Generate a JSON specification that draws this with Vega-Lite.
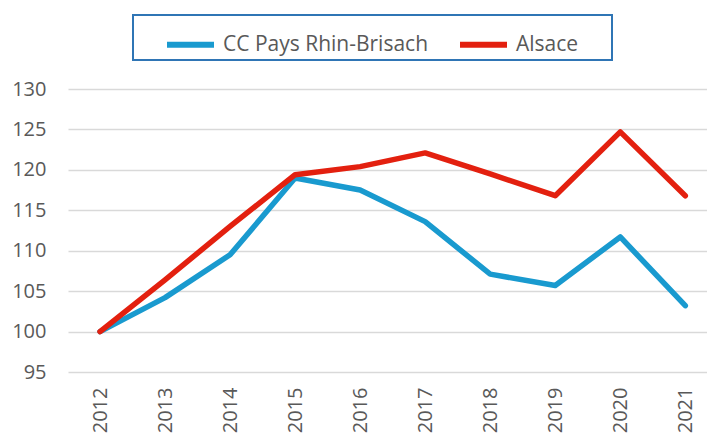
{
  "$schema": "https://vega.github.io/schema/vega-lite/v6.json",
  "width": 639,
  "height": 283,
  "autosize": {"type": "none"},
  "padding": {"left": 68, "top": 89, "right": 0, "bottom": 63},
  "background": "white",
  "config": {"view": {"stroke": null}, "font": "Open Sans", "legend": {"strokeWidth": 2}},
  "data": {
    "values": [
      {"year": "2012", "series": "CC Pays Rhin-Brisach", "value": 100.0},
      {"year": "2013", "series": "CC Pays Rhin-Brisach", "value": 104.2},
      {"year": "2014", "series": "CC Pays Rhin-Brisach", "value": 109.5},
      {"year": "2015", "series": "CC Pays Rhin-Brisach", "value": 119.0},
      {"year": "2016", "series": "CC Pays Rhin-Brisach", "value": 117.5},
      {"year": "2017", "series": "CC Pays Rhin-Brisach", "value": 113.6},
      {"year": "2018", "series": "CC Pays Rhin-Brisach", "value": 107.1},
      {"year": "2019", "series": "CC Pays Rhin-Brisach", "value": 105.7},
      {"year": "2020", "series": "CC Pays Rhin-Brisach", "value": 111.7},
      {"year": "2021", "series": "CC Pays Rhin-Brisach", "value": 103.2},
      {"year": "2012", "series": "Alsace", "value": 100.0},
      {"year": "2013", "series": "Alsace", "value": 106.4},
      {"year": "2014", "series": "Alsace", "value": 113.0},
      {"year": "2015", "series": "Alsace", "value": 119.4},
      {"year": "2016", "series": "Alsace", "value": 120.4},
      {"year": "2017", "series": "Alsace", "value": 122.1},
      {"year": "2018", "series": "Alsace", "value": 119.5},
      {"year": "2019", "series": "Alsace", "value": 116.8},
      {"year": "2020", "series": "Alsace", "value": 124.7},
      {"year": "2021", "series": "Alsace", "value": 116.8}
    ]
  },
  "mark": {"type": "line", "strokeWidth": 5.5, "strokeCap": "round", "strokeJoin": "round"},
  "encoding": {
    "x": {
      "field": "year",
      "type": "ordinal",
      "scale": {"type": "point", "padding": 0.413, "align": 0.596},
      "axis": {
        "title": null,
        "domain": false,
        "ticks": false,
        "labelAngle": -90,
        "labelPadding": 15,
        "labelFontSize": 20,
        "labelColor": "#595959"
      }
    },
    "y": {
      "field": "value",
      "type": "quantitative",
      "scale": {"domain": [95, 130], "nice": false, "zero": false},
      "axis": {
        "title": null,
        "values": [95, 100, 105, 110, 115, 120, 125, 130],
        "domain": false,
        "ticks": false,
        "grid": true,
        "gridColor": "#D9D9D9",
        "gridWidth": 1.5,
        "labelPadding": 22,
        "labelFontSize": 20,
        "labelColor": "#595959"
      }
    },
    "color": {
      "field": "series",
      "type": "nominal",
      "scale": {"domain": ["CC Pays Rhin-Brisach", "Alsace"], "range": ["#199ACF", "#E3200F"]},
      "legend": {
        "title": null,
        "orient": "none",
        "legendX": 65,
        "legendY": -74,
        "direction": "horizontal",
        "strokeColor": "#2F75B5",
        "padding": 3,
        "symbolType": "stroke",
        "symbolStrokeWidth": 6,
        "symbolSize": 2209,
        "symbolOffset": 28,
        "labelFontSize": 21,
        "labelColor": "#595959",
        "labelOffset": 6,
        "columnPadding": -1,
        "labelLimit": 400,
        "labelExpr": "datum.label == 'Alsace' ? 'Alsace\u2800\u2800' : datum.label"
      }
    }
  }
}
